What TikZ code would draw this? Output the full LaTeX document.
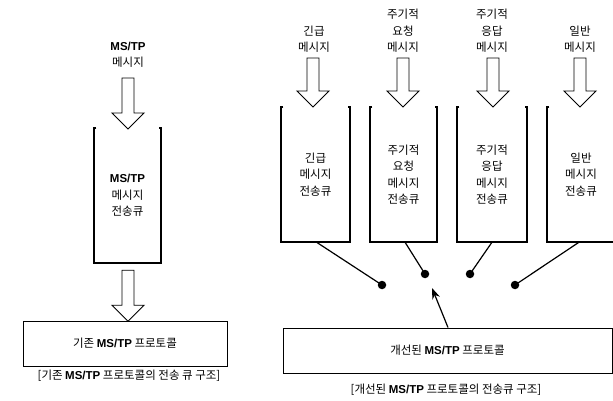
\documentclass[tikz,border=0pt]{standalone}
\usepackage{fontspec}
\setmainfont{Noto Sans CJK KR}
\newfontfamily\latf{Liberation Sans}
\newcommand\mstp{{\latf\bfseries MS/TP}}
\usetikzlibrary{arrows.meta}
\begin{document}
\begin{tikzpicture}[x=1pt,y=-1pt,
  txt/.style={align=center,font=\fontsize{11.5}{16.5}\selectfont,inner sep=0pt},
  qbox/.style={txt,minimum width=#1,minimum height=135pt},
  qline/.style={line width=1.5pt},
  pbox/.style={draw,line width=1pt,inner sep=0pt,minimum height=45pt,font=\fontsize{11.5}{14}\selectfont},
  dotnode/.style={circle,fill=black,inner sep=0pt,minimum size=8.5pt},
  hollow/.style={draw,line width=0.9pt,fill=white},
  link/.style={line width=1.2pt},
  hollowarr/.pic={\draw[hollow] (-6,0) -- (6,0) -- (6,{#1-16}) -- (16,{#1-16}) -- (0,#1) -- (-16,{#1-16}) -- (-6,{#1-16}) -- cycle;}
]
\useasboundingbox (0,0) rectangle (613,401);
\newcommand\openbox[1]{\draw[qline] ([xshift=2.5pt]#1.north west) -- (#1.north west) -- (#1.south west) -- (#1.south east) -- (#1.north east) -- ([xshift=-2.5pt]#1.north east);}

% ---------- left: existing ----------
\node[txt] (l0) at (128,55) {\mstp\\메시지};
\node[qbox=67pt] (q0) at (127.5,195.5) {\mstp\\메시지\\전송큐};
\openbox{q0}
\path (128,78) pic {hollowarr=51};
\node[pbox,minimum width=204pt] (p0) at (125,343.5) {기존 \mstp{} 프로토콜};
\path (q0.south) ++(0.5,7) pic {hollowarr=51};
\node[txt] (c0) at (129,376) {[기존 \mstp{} 프로토콜의 전송 큐 구조]};

% ---------- right: improved ----------
\node[txt] (l1) at (314,39) {긴급\\메시지};
\node[txt] (l2) at (403,31) {주기적\\요청\\메시지};
\node[txt] (l3) at (492,31) {주기적\\응답\\메시지};
\node[txt] (l4) at (580,39) {일반\\메시지};

\node[qbox=69pt] (q1) at (315.5,174.5) {긴급\\메시지\\전송큐};
\node[qbox=67pt] (q2) at (403.5,174.5) {주기적\\요청\\메시지\\전송큐};
\node[qbox=70pt] (q3) at (492,174.5) {주기적\\응답\\메시지\\전송큐};
\node[qbox=68pt] (q4) at (581,174.5) {일반\\메시지\\전송큐};
\foreach \q in {q1,q2,q3,q4} {\openbox{\q}}

\path (313,58) pic {hollowarr=49};
\path (403,58) pic {hollowarr=49};
\path (493,58) pic {hollowarr=49};
\path (580,58) pic {hollowarr=49};

\node[dotnode] (d1) at (382,285) {};
\node[dotnode] (d2) at (425,274) {};
\node[dotnode] (d3) at (470,274) {};
\node[dotnode] (d4) at (515,285) {};
\draw[link] ([xshift=1pt]q1.south) -- (d1.center);
\draw[link] ([xshift=1.5pt]q2.south) -- (d2.center);
\draw[link] (q3.south) -- (d3.center);
\draw[link] ([xshift=-2pt]q4.south) -- (d4.center);

\node[pbox,minimum width=329pt] (p1) at (447.5,350.5) {개선된 \mstp{} 프로토콜};
\coordinate (tip) at (432,288);
\draw[link,-{Stealth[length=11pt,width=8pt]}] (p1.north -| 448,0) -- (tip);
\node[txt] (c1) at (446,390) {[개선된 \mstp{} 프로토콜의 전송큐 구조]};
\end{tikzpicture}
\end{document}
